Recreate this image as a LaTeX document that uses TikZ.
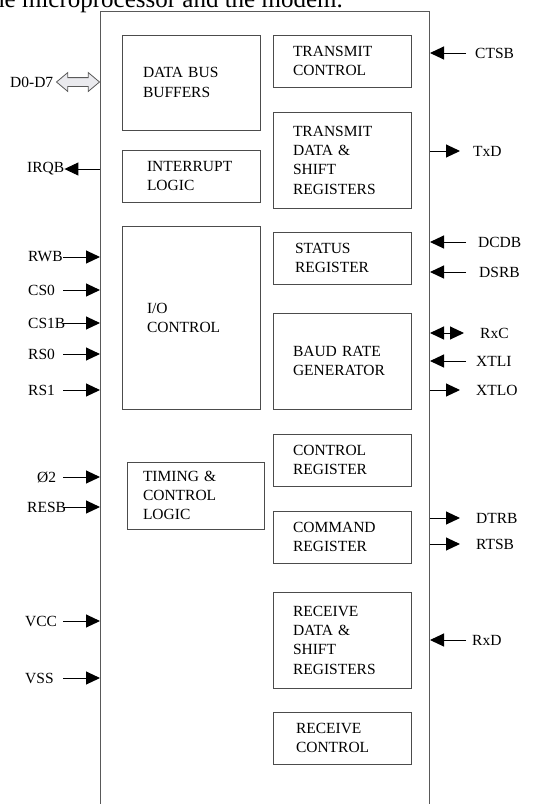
\documentclass[tikz,border=0pt]{standalone}
\usepackage{fontspec}
\setmainfont{Liberation Serif}
\usepackage{tikz}
\usetikzlibrary{arrows.meta, shapes.arrows}
\tikzstyle{chipbox} = [rectangle, draw=black!65, line width=1pt, inner sep=0pt]
\tikzstyle{unit} = [rectangle, draw=black!70, line width=0.9pt, minimum width=138pt, align=left, inner ysep=0pt, font=\fontsize{15.5}{19.3}\selectfont]
\tikzstyle{pinlabel} = [inner sep=0pt, anchor=west, font=\fontsize{15.5}{19.3}\selectfont]
\tikzstyle{arrow} = [line width=1pt, -{Triangle[length=14pt, width=13pt]}]
\tikzstyle{twoway} = [line width=1pt, {Triangle[length=14pt, width=13pt]}-{Triangle[length=14pt, width=13pt]}]
\tikzstyle{bus} = [double arrow, draw=black!65, fill=blue!10!gray!15, line width=0.8pt, minimum height=43pt, inner xsep=0pt, inner ysep=4pt, double arrow head extend=5pt, double arrow tip angle=80]

\begin{document}
\begin{tikzpicture}[x=1pt, y=-1pt]
    \useasboundingbox (0,0) rectangle (548,804);
    \node[anchor=base east, inner sep=0pt, font=\fontsize{25}{30}\selectfont] (caption) at (343,7) {the microprocessor and the modem.};

    % chip outline
    \node[chipbox, minimum width=329pt, minimum height=830pt, anchor=north west] (chip) at (100,11) {};

    % left column
    \node[unit, inner xsep=21pt, text width=96pt, minimum height=95pt] (buffers) at (191,82.5) {DATA BUS\\BUFFERS};
    \node[unit, inner xsep=25pt, text width=88pt, minimum height=52pt] (interrupt) at (191,176) {INTERRUPT\\LOGIC};
    \node[unit, inner xsep=25pt, text width=88pt, minimum height=183pt, text depth=18pt] (ioctl) at (191,317.5) {I/O\\CONTROL};
    \node[unit, inner xsep=16pt, text width=105pt, minimum width=137pt, minimum height=67pt] (timing) at (195.5,495.5) {TIMING \&\\CONTROL\\LOGIC};

    % right column
    \node[unit, inner xsep=20pt, text width=98pt, minimum height=52pt] (txctl) at (342,61) {TRANSMIT\\CONTROL};
    \node[unit, inner xsep=20pt, text width=98pt, minimum height=96pt] (txreg) at (342,160) {TRANSMIT\\DATA \&\\SHIFT\\REGISTERS};
    \node[unit, inner xsep=22pt, text width=94pt, minimum height=52pt] (status) at (342,258) {STATUS\\REGISTER};
    \node[unit, inner xsep=20pt, text width=98pt, minimum height=96pt] (baud) at (342,361) {BAUD RATE\\GENERATOR};
    \node[unit, inner xsep=20pt, text width=98pt, minimum height=52pt] (ctrlreg) at (342,460) {CONTROL\\REGISTER};
    \node[unit, inner xsep=20pt, text width=98pt, minimum height=52pt] (cmdreg) at (342,537) {COMMAND\\REGISTER};
    \node[unit, inner xsep=20pt, text width=98pt, minimum height=96pt] (rxreg) at (342,640) {RECEIVE\\DATA \&\\SHIFT\\REGISTERS};
    \node[unit, inner xsep=23pt, text width=92pt, minimum height=52pt] (rxctl) at (342,738) {RECEIVE\\CONTROL};

    % left pins
    \node[pinlabel] (data) at (10,82) {D0-D7};
    \node[bus] (databus) at (78,82) {};
    \node[pinlabel] (irqb) at (27,169) {IRQB};
    \node[pinlabel] (rwb) at (28,257) {RWB};
    \node[pinlabel] (cs0) at (28,290) {CS0};
    \node[pinlabel] (cs1b) at (28,323) {CS1B};
    \node[pinlabel] (rs0) at (28,354) {RS0};
    \node[pinlabel] (rs1) at (28,390) {RS1};
    \node[pinlabel] (phi2) at (37,477) {Ø2};
    \node[pinlabel] (resb) at (27,507) {RESB};
    \node[pinlabel] (vcc) at (25,621) {VCC};
    \node[pinlabel] (vss) at (25,678) {VSS};

    \draw[arrow] (chip.west |- irqb) -- (irqb.east);
    \draw[arrow] ([xshift=35pt]rwb.west) -- (chip.west |- rwb);
    \draw[arrow] ([xshift=35pt]cs0.west) -- (chip.west |- cs0);
    \draw[arrow] ([xshift=35pt]cs1b.west) -- (chip.west |- cs1b);
    \draw[arrow] ([xshift=35pt]rs0.west) -- (chip.west |- rs0);
    \draw[arrow] ([xshift=35pt]rs1.west) -- (chip.west |- rs1);
    \draw[arrow] ([xshift=26pt]phi2.west) -- (chip.west |- phi2);
    \draw[arrow] ([xshift=36pt]resb.west) -- (chip.west |- resb);
    \draw[arrow] ([xshift=38pt]vcc.west) -- (chip.west |- vcc);
    \draw[arrow] ([xshift=38pt]vss.west) -- (chip.west |- vss);

    % right pins
    \node[pinlabel] (ctsb) at (475,53) {CTSB};
    \node[pinlabel] (txd) at (473,151) {TxD};
    \node[pinlabel] (dcdb) at (478,242) {DCDB};
    \node[pinlabel] (dsrb) at (479,272) {DSRB};
    \node[pinlabel] (rxc) at (480,333) {RxC};
    \node[pinlabel] (xtli) at (476,361) {XTLI};
    \node[pinlabel] (xtlo) at (476,390) {XTLO};
    \node[pinlabel] (dtrb) at (476,518) {DTRB};
    \node[pinlabel] (rtsb) at (476,544) {RTSB};
    \node[pinlabel] (rxd) at (472,640) {RxD};

    \draw[arrow] ([xshift=-9pt]ctsb.west) -- (chip.east |- ctsb);
    \draw[arrow] (chip.east |- txd) -- ([xshift=-13pt]txd.west);
    \draw[arrow] ([xshift=-12pt]dcdb.west) -- (chip.east |- dcdb);
    \draw[arrow] ([xshift=-13pt]dsrb.west) -- (chip.east |- dsrb);
    \draw[twoway] (chip.east |- rxc) -- ([xshift=-16pt]rxc.west);
    \draw[arrow] ([xshift=-10pt]xtli.west) -- (chip.east |- xtli);
    \draw[arrow] (chip.east |- xtlo) -- ([xshift=-16pt]xtlo.west);
    \draw[arrow] (chip.east |- dtrb) -- ([xshift=-16pt]dtrb.west);
    \draw[arrow] (chip.east |- rtsb) -- ([xshift=-16pt]rtsb.west);
    \draw[arrow] ([xshift=-6pt]rxd.west) -- (chip.east |- rxd);
\end{tikzpicture}
\end{document}
